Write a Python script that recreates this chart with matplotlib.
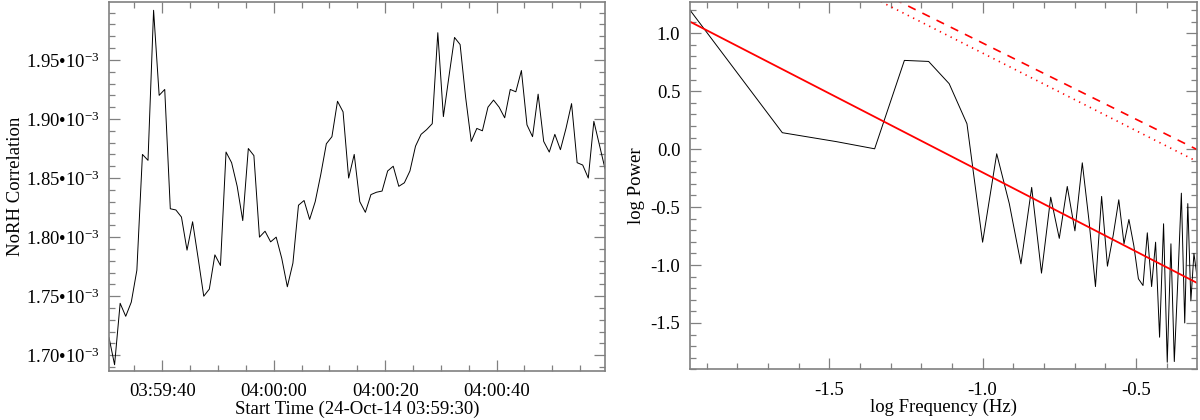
import numpy as np
import matplotlib
matplotlib.use("Agg")
import matplotlib.pyplot as plt
from matplotlib.ticker import MultipleLocator, FuncFormatter

# NoRH correlation time series (units of 1e-3), 1 s cadence from ~03:59:30.45
corr_e3 = [1.715, 1.692, 1.744, 1.733, 1.745, 1.772, 1.870, 1.865, 1.992, 1.920,
           1.925, 1.824, 1.823, 1.817, 1.789, 1.813, 1.782, 1.750, 1.756, 1.785,
           1.776, 1.872, 1.863, 1.843, 1.814, 1.875, 1.869, 1.800, 1.805, 1.796,
           1.800, 1.782, 1.758, 1.778, 1.827, 1.831, 1.815, 1.830, 1.853, 1.879,
           1.885, 1.915, 1.906, 1.850, 1.870, 1.830, 1.821, 1.836, 1.838, 1.839,
           1.856, 1.860, 1.843, 1.846, 1.856, 1.877, 1.887, 1.891, 1.896, 1.973,
           1.902, 1.936, 1.969, 1.963, 1.918, 1.881, 1.892, 1.890, 1.910, 1.916,
           1.910, 1.901, 1.925, 1.923, 1.941, 1.895, 1.885, 1.921, 1.881, 1.872,
           1.887, 1.874, 1.892, 1.913, 1.863, 1.861, 1.850, 1.898, 1.878, 1.858]
t_start = 0.45      # seconds after 03:59:30
cadence = 1.0       # s
time_ticks = [10, 30, 50, 70]

# power spectrum
log_freq = [-1.954, -1.653, -1.477, -1.352, -1.255, -1.176, -1.109, -1.051, -1.000, -0.954,
            -0.913, -0.875, -0.840, -0.808, -0.778, -0.750, -0.724, -0.699, -0.675, -0.653,
            -0.632, -0.612, -0.593, -0.574, -0.556, -0.539, -0.523, -0.507, -0.492, -0.477,
            -0.463, -0.449, -0.436, -0.423, -0.410, -0.398, -0.386, -0.375, -0.363, -0.352,
            -0.341, -0.331, -0.321, -0.311, -0.301]
log_power = [1.20, 0.142, 0.065, 0.003, 0.766, 0.757, 0.565, 0.219, -0.803, -0.040,
             -0.47, -0.99, -0.33, -1.07, -0.415, -0.77, -0.322, -0.705, -0.118, -0.62,
             -1.186, -0.408, -1.01, -0.74, -0.437, -0.817, -0.607, -0.832, -1.119, -1.177,
             -0.722, -1.186, -0.803, -1.623, -0.644, -1.839, -0.817, -1.833, -1.10, -0.38,
             -1.50, -0.47, -1.31, -0.90, -1.10]

# power-law fit and confidence levels: (intercept, slope)
fit_line = (-1.565, -1.364)
conf_dash = (-0.399, -1.315)
conf_dot = (-0.509, -1.338)

plt.rcParams['font.family'] = ['Liberation Serif', 'DejaVu Serif']
plt.rcParams['mathtext.fontset'] = 'custom'
plt.rcParams['mathtext.rm'] = 'Liberation Serif'
plt.rcParams['mathtext.it'] = 'Liberation Serif'
plt.rcParams['axes.unicode_minus'] = False

FS = 13.5
frame_col = '0.5'


def style_axes(ax):
    for sp in ax.spines.values():
        sp.set_color(frame_col)
        sp.set_linewidth(1.2)
    ax.tick_params(which='both', direction='in', top=True, right=True,
                   colors=frame_col, labelcolor='black', labelsize=FS, width=0.9)
    ax.tick_params(which='major', length=8)
    ax.tick_params(which='minor', length=4.5)
    ax.tick_params(axis='x', which='major', pad=9)
    ax.tick_params(axis='y', which='major', pad=7)


def sec_to_hms(s, pos=None):
    tot = int(round(3 * 3600 + 59 * 60 + 30 + s))
    return '%02d:%02d:%02d' % (tot // 3600, (tot // 60) % 60, tot % 60)


fig = plt.figure(figsize=(12, 4.2), dpi=100)

# left: time series
ax1 = fig.add_axes([109 / 1200, 49 / 420, 496 / 1200, 369 / 420])
corr = np.array(corr_e3) * 1e-3
t = t_start + cadence * np.arange(len(corr))
ax1.plot(t, corr, color='black', lw=0.7)
ax1.set_xlim(t[0], t[-1])
ax1.set_ylim(1.6867e-3, 1.999e-3)
ax1.set_xticks(time_ticks)
ax1.xaxis.set_major_formatter(FuncFormatter(sec_to_hms))
ax1.xaxis.set_minor_locator(MultipleLocator(5))
ax1.yaxis.set_major_locator(MultipleLocator(0.05e-3))
ax1.yaxis.set_minor_locator(MultipleLocator(0.01e-3))
ax1.yaxis.set_major_formatter(FuncFormatter(lambda v, p: '%.2f\u202210$^{-3}$' % (v * 1e3)))
style_axes(ax1)
ax1.set_xlabel('Start Time (24-Oct-14 03:59:30)', fontsize=FS, labelpad=0)
ax1.set_ylabel('NoRH Correlation', fontsize=FS)
ax1.yaxis.set_label_coords(-0.172, 0.5)

# right: power spectrum
ax2 = fig.add_axes([690 / 1200, 50.7 / 420, 507 / 1200, 367.3 / 420])
lf = np.array(log_freq)
ax2.plot(lf, log_power, color='black', lw=0.7)
ax2.plot(lf, fit_line[0] + fit_line[1] * lf, color='red', lw=1.3)
ax2.plot(lf, conf_dash[0] + conf_dash[1] * lf, color='red', lw=1.2,
         linestyle=(0, (5, 4.5)))
ax2.plot(lf, conf_dot[0] + conf_dot[1] * lf, color='red', lw=1.2,
         linestyle=(0, (0.8, 2.8)))
ax2.set_xlim(lf[0], lf[-1])
ax2.set_ylim(-1.90, 1.27)
ax2.xaxis.set_major_locator(MultipleLocator(0.5))
ax2.xaxis.set_minor_locator(MultipleLocator(0.1))
ax2.yaxis.set_major_locator(MultipleLocator(0.5))
ax2.yaxis.set_minor_locator(MultipleLocator(0.1))
ax2.xaxis.set_major_formatter(FuncFormatter(lambda v, p: '%.1f' % v))
ax2.yaxis.set_major_formatter(FuncFormatter(lambda v, p: '%.1f' % v))
style_axes(ax2)
ax2.set_xlabel('log Frequency (Hz)', fontsize=FS, labelpad=0)
ax2.set_ylabel('log Power', fontsize=FS)
ax2.yaxis.set_label_coords(-0.089, 0.5)

fig.savefig('out.png', dpi=100)
